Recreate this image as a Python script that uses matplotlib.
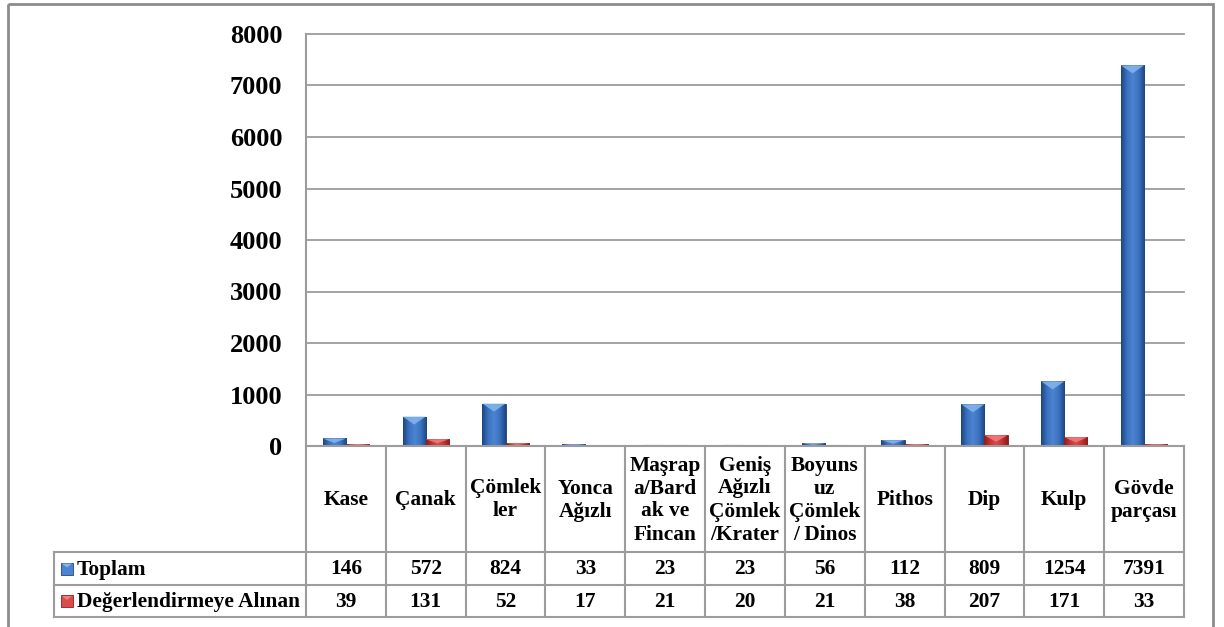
import numpy as np
import matplotlib
matplotlib.use("Agg")
import matplotlib.pyplot as plt
from matplotlib.patches import Rectangle, Polygon
from matplotlib.lines import Line2D
from matplotlib.colors import LinearSegmentedColormap

# ---------------- data ----------------
categories = ["Kase", "Çanak", "Çömlek\nler", "Yonca\nAğızlı", "Maşrap\na/Bard\nak ve\nFincan",
              "Geniş\nAğızlı\nÇömlek\n/Krater", "Boyuns\nuz\nÇömlek\n/ Dinos", "Pithos", "Dip",
              "Kulp", "Gövde\nparçası"]
series_names = ["Toplam", "Değerlendirmeye Alınan"]
toplam = [146, 572, 824, 33, 23, 23, 56, 112, 809, 1254, 7391]
degerlendirme = [39, 131, 52, 17, 21, 20, 21, 38, 207, 171, 33]
yticks = [0, 1000, 2000, 3000, 4000, 5000, 6000, 7000, 8000]

# ---------------- style ----------------
FONT = "Liberation Serif"
plt.rcParams["font.family"] = [FONT, "DejaVu Serif"]
plt.rcParams["font.weight"] = "bold"
GRID = "#9c9c9c"
TFS = 15.4

W, H = 1224, 627
fig = plt.figure(figsize=(W / 100, H / 100), dpi=100)

def fx(px):
    return px / W

def fy(py):
    return 1 - py / H

PL, PR, PT, PB = 306, 1184, 34, 446
ax = fig.add_axes([fx(PL), fy(PB), fx(PR) - fx(PL), fy(PT) - fy(PB)])

n = len(categories)
x = np.arange(n)
bw = 0.29

blue_cmap = LinearSegmentedColormap.from_list("b", ["#1d4680", "#3b72c0", "#4c84d2", "#3b72c0", "#1d4680"])
red_cmap = LinearSegmentedColormap.from_list("r", ["#8e1c1c", "#c83232", "#dc4a4a", "#c83232", "#8e1c1c"])

ymax = 8000
ax.set_xlim(-0.5, n - 0.5)
ax.set_ylim(0, ymax)
px_per_unit = (PB - PT) / ymax

def draw_bars(offset, vals, cmap, top_col, edge):
    bars = ax.bar(x + offset, vals, width=bw, align="edge", color=cmap(0.5),
                  edgecolor=edge, linewidth=0.6, zorder=3)
    grad = np.linspace(0, 1, 64).reshape(1, -1)
    for b in bars:
        x0, w, h = b.get_x(), b.get_width(), b.get_height()
        im = ax.imshow(grad, cmap=cmap, extent=(x0, x0 + w, 0, h), aspect="auto",
                       zorder=3.1, origin="lower")
        im.set_clip_path(b)
        d = min(h * 0.6, 8 / px_per_unit)
        tri = Polygon([(x0, h), (x0 + w, h), (x0 + w / 2, h - d)], closed=True,
                      facecolor=top_col, edgecolor="none", zorder=3.2, alpha=0.85)
        ax.add_patch(tri)
    return bars

draw_bars(-bw, toplam, blue_cmap, "#86b6ec", "#1a3d70")
draw_bars(0, degerlendirme, red_cmap, "#ee8080", "#7a1515")

ax.set_xlim(-0.5, n - 0.5)
ax.set_ylim(0, ymax)
ax.set_yticks(yticks)
ax.set_yticklabels([str(v) for v in yticks], fontsize=19, fontweight="bold", family=FONT)
ax.tick_params(axis="y", length=0, pad=17)
ax.set_xticks([])
ax.yaxis.grid(True, color=GRID, linewidth=1.3, zorder=0)
for gl in ax.get_ygridlines():
    gl.set_clip_on(False)
ax.set_axisbelow(True)
for s in ["top", "right", "bottom"]:
    ax.spines[s].set_visible(False)
ax.spines["left"].set_color(GRID)
ax.spines["left"].set_linewidth(1.5)

# ---------------- overlay in pixel coords: table + frame ----------------
ov = fig.add_axes([0, 0, 1, 1])
ov.set_xlim(0, W)
ov.set_ylim(H, 0)
ov.axis("off")
ov.patch.set_alpha(0)

colw = (PR - PL) / n
LEG_L = 54
R0, R1, R2, R3 = PB, 552, 585, 617
lw = 1.5

def hline(y, x0, x1):
    ov.add_line(Line2D([x0, x1], [y, y], color=GRID, lw=lw))

def vline(xp, y0, y1):
    ov.add_line(Line2D([xp, xp], [y0, y1], color=GRID, lw=lw))

hline(R0, PL, PR)
hline(R1, LEG_L, PR)
hline(R2, LEG_L, PR)
hline(R3, LEG_L, PR)
vline(LEG_L, R1, R3)
for i in range(n + 1):
    vline(PL + i * colw, R0, R3)

for i, c in enumerate(categories):
    cx = PL + (i + 0.5) * colw
    ov.text(cx, (R0 + R1) / 2 + 1, c, ha="center", va="center", fontsize=TFS,
            fontweight="bold", family=FONT, linespacing=1.2)
    ov.text(cx, (R1 + R2) / 2 + 1, str(toplam[i]), ha="center", va="center",
            fontsize=TFS, fontweight="bold", family=FONT)
    ov.text(cx, (R2 + R3) / 2 + 1, str(degerlendirme[i]), ha="center", va="center",
            fontsize=TFS, fontweight="bold", family=FONT)

for (r0, r1), name, cm, tc in [((R1, R2), series_names[0], blue_cmap, "#86b6ec"),
                               ((R2, R3), series_names[1], red_cmap, "#ee8080")]:
    cy = (r0 + r1) / 2
    ov.add_patch(Rectangle((61, cy - 6), 12, 12, facecolor=cm(0.5), edgecolor=cm(0.0), lw=0.6))
    ov.add_patch(Polygon([(62, cy - 5), (72, cy - 5), (67, cy - 1)], facecolor=tc, edgecolor="none"))
    ov.text(77, cy + 1, name, ha="left", va="center", fontsize=TFS, fontweight="bold", family=FONT)

# outer frame (bottom edge beyond the canvas)
ov.add_patch(Rectangle((8, 4), 1213 - 8, 700, facecolor="none", edgecolor="#8c8c8c", lw=2))

fig.savefig("out.png", dpi=100)
